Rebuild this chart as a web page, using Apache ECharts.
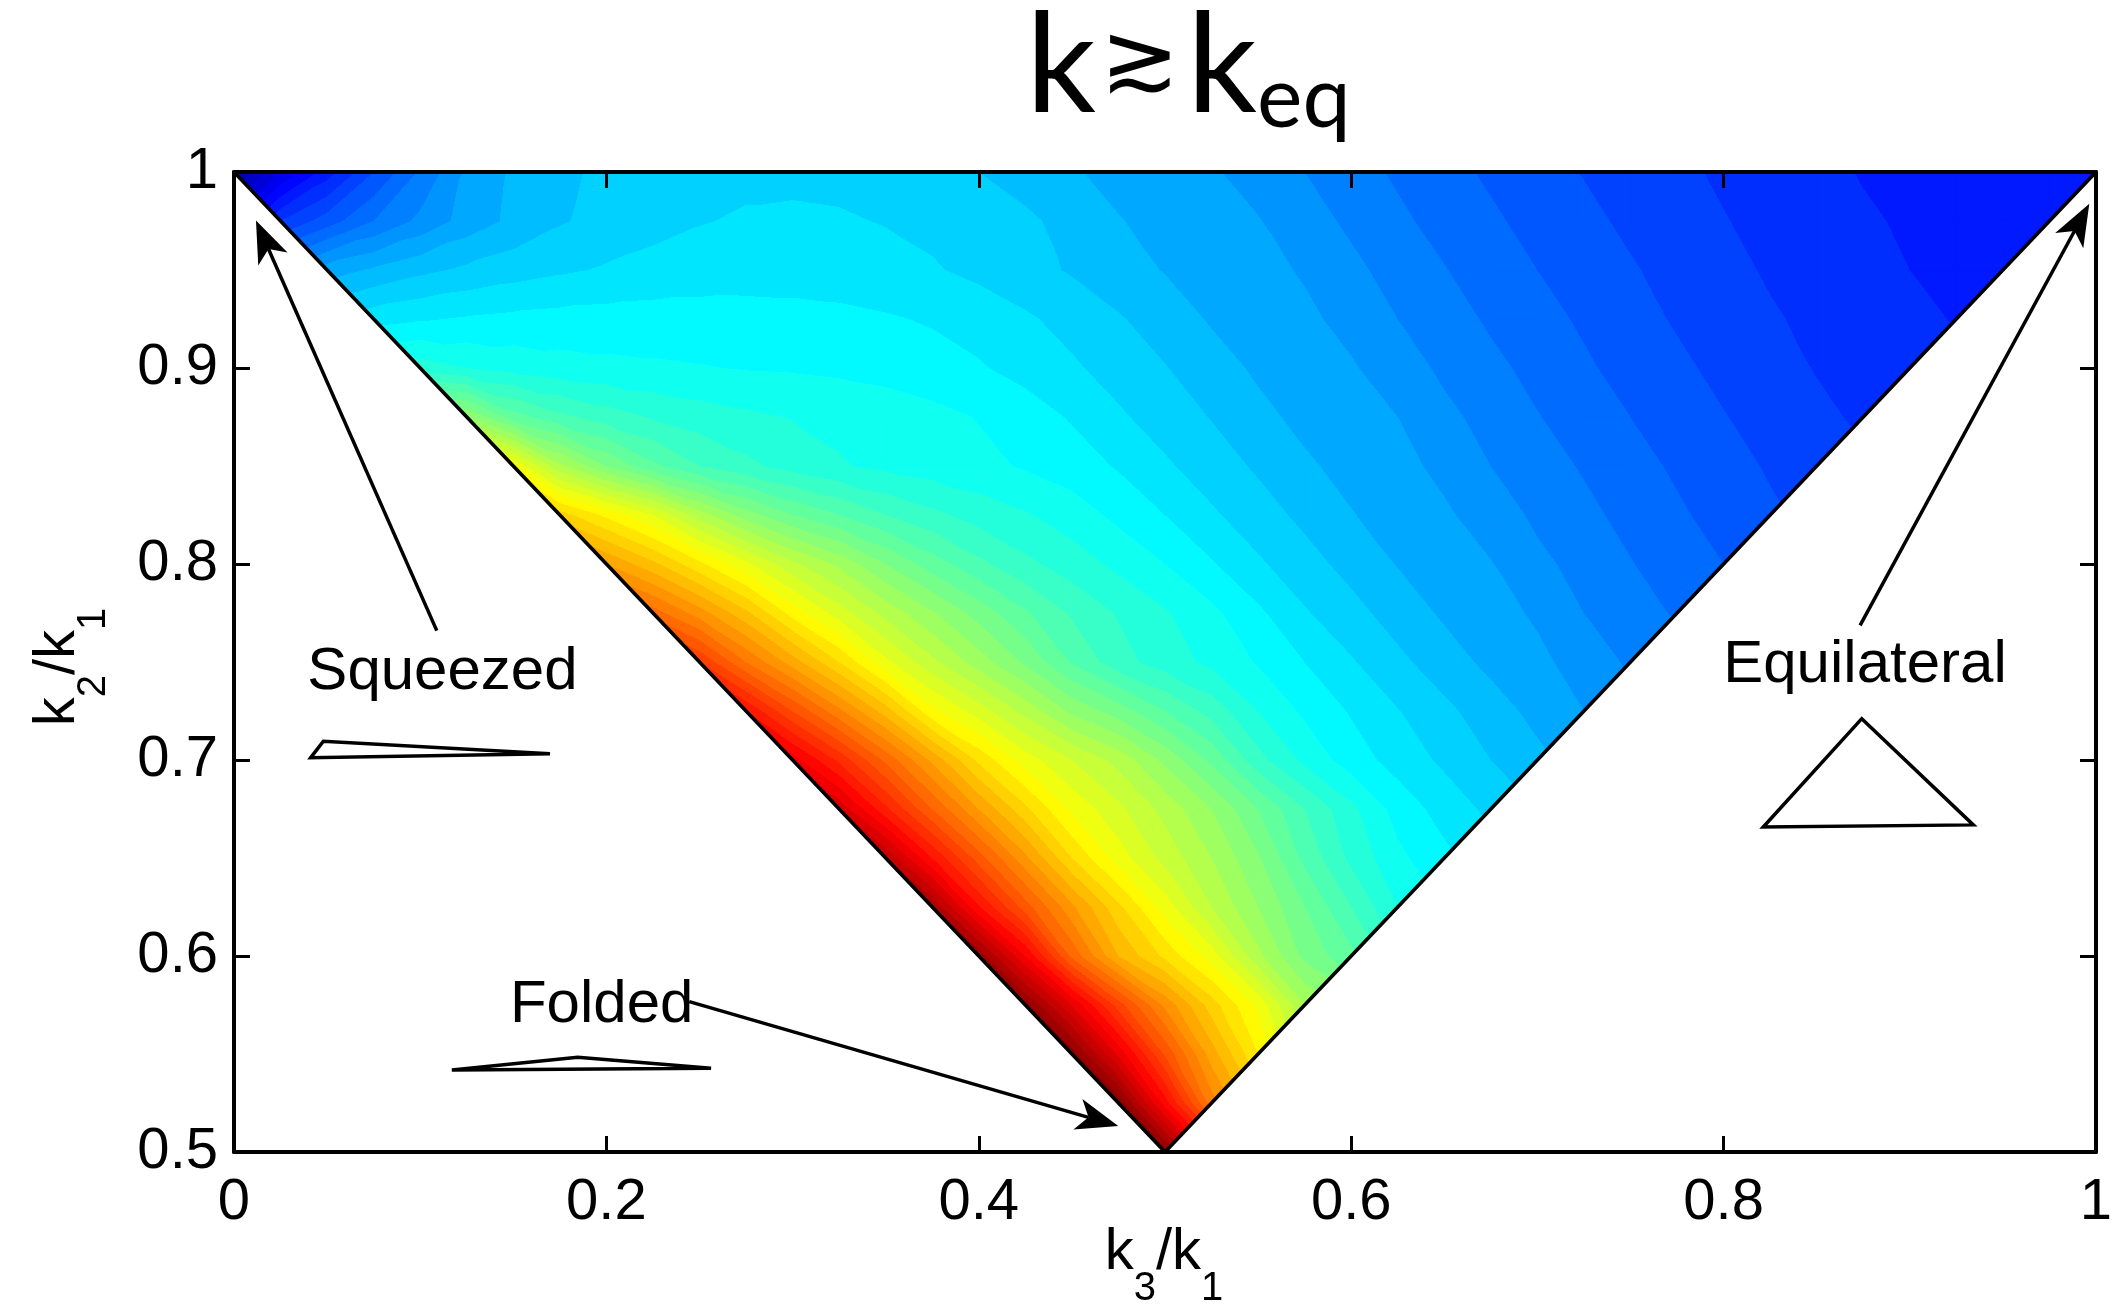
<!DOCTYPE html>
<html><head><meta charset="utf-8">
<script src="https://cdn.jsdelivr.net/npm/echarts@6/dist/echarts.min.js"></script>
<style>html,body{margin:0;padding:0;background:#fff}#c{width:2122px;height:1309px}</style>
</head><body><div id="c"></div>
<script>
// ---------------- data ----------------
const xTicks = [0, 0.2, 0.4, 0.6, 0.8, 1];
const yTicks = [0.5, 0.6, 0.7, 0.8, 0.9, 1];
// sample grid (k3/k1 columns, k2/k1 rows); each row spans x from 1-y to y
const colX = [0,0.025,0.05,0.075,0.1,0.125,0.15,0.175,0.2,0.225,0.25,0.275,0.3,0.325,0.35,0.375,0.4,0.425,0.45,0.475,0.5,
  0.525,0.55,0.575,0.6,0.625,0.65,0.675,0.7,0.725,0.75,0.775,0.8,0.825,0.85,0.875,0.9,0.925,0.95,0.975,1];
const rowY = [0.5,0.525,0.55,0.575,0.6,0.625,0.65,0.675,0.7,0.725,0.75,0.775,0.8,0.825,0.85,0.875,0.9,0.925,0.95,0.975,1];
// normalised shape amplitude (colormap position)
const row00 = [0.99];
const row01 = [0.995,0.87,0.75];
const row02 = [0.99,0.895,0.797,0.71,0.64];
const row03 = [0.985,0.9,0.81,0.735,0.67,0.615,0.54];
const row04 = [0.975,0.88,0.775,0.70,0.655,0.61,0.545,0.495,0.465];
const row05 = [0.96,0.862,0.79,0.725,0.665,0.61,0.56,0.52,0.48,0.44,0.40];
const row06 = [0.94,0.86,0.79,0.725,0.66,0.61,0.573,0.54,0.502,0.455,0.415,0.385,0.365];
const row07 = [0.915,0.845,0.78,0.72,0.665,0.615,0.585,0.553,0.52,0.48,0.44,0.405,0.372,0.352,0.335];
const row08 = [0.89,0.835,0.775,0.715,0.655,0.61,0.58,0.553,0.515,0.475,0.427,0.395,0.37,0.352,0.336,0.32,0.305];
const row09 = [0.86,0.80,0.745,0.69,0.625,0.59,0.553,0.515,0.49,0.46,0.432,0.40,0.376,0.358,0.341,0.325,0.309,0.294,0.28];
const row10 = [0.82,0.76,0.71,0.66,0.605,0.565,0.53,0.496,0.458,0.428,0.41,0.395,0.378,0.36,0.342,0.325,0.309,0.295,0.285,0.271,0.257];
const row11 = [0.77,0.73,0.685,0.632,0.59,0.553,0.522,0.492,0.463,0.437,0.418,0.402,0.385,0.364,0.342,0.327,0.311,0.297,0.288,0.277,0.26,0.248,0.238];
const row12 = [0.72,0.685,0.645,0.605,0.565,0.535,0.5,0.47,0.445,0.425,0.41,0.395,0.38,0.362,0.343,0.328,0.313,0.299,0.29,0.281,0.265,0.253,0.241,0.231,0.22];
const row13 = [0.67,0.635,0.60,0.55,0.51,0.48,0.46,0.44,0.425,0.412,0.402,0.39,0.375,0.36,0.343,0.329,0.315,0.301,0.292,0.283,0.271,0.256,0.245,0.234,0.223,0.213,0.203];
const row14 = [0.62,0.545,0.5,0.465,0.44,0.425,0.412,0.402,0.395,0.39,0.385,0.378,0.37,0.358,0.343,0.33,0.317,0.303,0.294,0.286,0.275,0.26,0.249,0.238,0.227,0.217,0.207,0.198,0.19];
const row15 = [0.52,0.47,0.445,0.43,0.418,0.41,0.404,0.399,0.395,0.391,0.386,0.379,0.37,0.358,0.343,0.331,0.319,0.305,0.295,0.288,0.28,0.265,0.253,0.241,0.23,0.22,0.21,0.201,0.192,0.184,0.177];
const row16 = [0.41,0.40,0.393,0.388,0.385,0.383,0.381,0.379,0.378,0.376,0.373,0.368,0.362,0.353,0.343,0.332,0.321,0.308,0.297,0.289,0.282,0.27,0.256,0.245,0.234,0.223,0.213,0.204,0.195,0.187,0.179,0.174,0.168];
const row17 = [0.352,0.358,0.362,0.365,0.367,0.368,0.369,0.369,0.368,0.367,0.365,0.362,0.358,0.352,0.343,0.333,0.322,0.31,0.298,0.291,0.284,0.274,0.26,0.249,0.237,0.227,0.217,0.207,0.198,0.19,0.182,0.176,0.17,0.164,0.159];
const row18 = [0.29,0.303,0.315,0.324,0.331,0.337,0.342,0.346,0.349,0.351,0.351,0.35,0.347,0.342,0.335,0.327,0.318,0.308,0.299,0.293,0.286,0.278,0.265,0.252,0.241,0.23,0.22,0.211,0.202,0.193,0.185,0.178,0.172,0.166,0.16,0.156,0.152];
const row19 = [0.18,0.21,0.24,0.265,0.288,0.305,0.318,0.327,0.334,0.339,0.342,0.343,0.342,0.339,0.335,0.33,0.324,0.313,0.301,0.294,0.287,0.281,0.269,0.256,0.244,0.233,0.223,0.214,0.205,0.196,0.189,0.181,0.174,0.168,0.162,0.158,0.154,0.15,0.146];
const row20 = [0.03,0.10,0.15,0.20,0.243,0.283,0.303,0.316,0.324,0.33,0.334,0.336,0.336,0.335,0.332,0.326,0.32,0.311,0.302,0.294,0.288,0.282,0.273,0.26,0.248,0.237,0.226,0.217,0.208,0.199,0.192,0.184,0.177,0.171,0.164,0.159,0.155,0.151,0.148,0.144,0.14];
// triangle domain outline (k3/k1, k2/k1)
const domainVertices = [[0, 1], [0.5, 0.5], [1, 1]];
// annotations (axis units)
const annoLabels = ['Squeezed', 'Folded', 'Equilateral'];
const labelPos = [[0.0394, 0.7368], [0.1482, 0.5665], [0.7998, 0.7400]];
const arrowTail = [[0.1089, 0.766], [0.2445, 0.5767], [0.8733, 0.7687]];
const arrowTip = [[0.0118, 0.9752], [0.4749, 0.5133], [0.9964, 0.9838]];
const shapeSqueezed = [[0.0412, 0.7012], [0.0480, 0.7096], [0.1697, 0.7032]];
const shapeFolded = [[0.117, 0.5418], [0.1846, 0.5483], [0.2562, 0.5427]];
const shapeEquilateral = [[0.8213, 0.6658], [0.8742, 0.7211], [0.9341, 0.6669]];

// ---------------- build ----------------
const fieldRows = [row00,row01,row02,row03,row04,row05,row06,row07,row08,row09,row10,row11,row12,row13,row14,row15,row16,row17,row18,row19,row20];
const shapes = [shapeSqueezed, shapeFolded, shapeEquilateral];
const MID = (colX.length - 1) / 2;
function val(j, k) { return fieldRows[j][k - (MID - j)]; }
function P(j, k) { return [colX[k], rowY[j], val(j, k)]; }
function tri(a, b, c) { return a.concat(b, c); }
const tris = [];
for (let j = 0; j < rowY.length - 1; j++) {
  const kMin = MID - j, kMax = MID + j;
  tris.push(tri(P(j, kMin), P(j + 1, kMin - 1), P(j + 1, kMin)));
  for (let k = kMin; k < kMax; k++) {
    const A = P(j, k), B = P(j, k + 1), C = P(j + 1, k), D = P(j + 1, k + 1);
    if (Math.abs(B[2] - C[2]) <= Math.abs(A[2] - D[2])) {
      tris.push(tri(A, B, C)); tris.push(tri(B, D, C));
    } else {
      tris.push(tri(A, B, D)); tris.push(tri(A, D, C));
    }
  }
  tris.push(tri(P(j, kMax), P(j + 1, kMax + 1), P(j + 1, kMax)));
}

function jet(v) {
  v = Math.max(0, Math.min(1, v));
  const c = t => Math.max(0, Math.min(1, t));
  const r = c(Math.min(4 * v - 1.5, -4 * v + 4.5));
  const g = c(Math.min(4 * v - 0.5, -4 * v + 3.5));
  const b = c(Math.min(4 * v + 0.5, -4 * v + 2.5));
  return 'rgb(' + Math.round(r * 255) + ',' + Math.round(g * 255) + ',' + Math.round(b * 255) + ')';
}
const LEVEL = 0.02;
function bandOf(n) { return jet((n + 0.5) * LEVEL); }
function bandFill(p, v) {
  const vmin = Math.min(v[0], v[1], v[2]), vmax = Math.max(v[0], v[1], v[2]);
  const nLo = Math.floor(vmin / LEVEL), nHi = Math.ceil(vmax / LEVEL) - 1;
  if (vmax - vmin < 1e-9 || nLo >= nHi) return bandOf(nLo);
  const x1 = p[1][0] - p[0][0], y1 = p[1][1] - p[0][1], x2 = p[2][0] - p[0][0], y2 = p[2][1] - p[0][1];
  const d1 = v[1] - v[0], d2 = v[2] - v[0];
  const det = x1 * y2 - x2 * y1;
  const gx = (d1 * y2 - d2 * y1) / det, gy = (x1 * d2 - x2 * d1) / det;
  const g2 = gx * gx + gy * gy;
  const im = v.indexOf(vmin);
  const sx = p[im][0], sy = p[im][1];
  const s = (vmax - vmin) / g2;
  const stops = [{ offset: 0, color: bandOf(nLo) }];
  for (let n = nLo + 1; n <= nHi; n++) {
    const o = Math.max(0, Math.min(1, (n * LEVEL - vmin) / (vmax - vmin)));
    stops.push({ offset: o, color: bandOf(n - 1) });
    stops.push({ offset: o, color: bandOf(n) });
  }
  stops.push({ offset: 1, color: bandOf(nHi) });
  return new echarts.graphic.LinearGradient(sx, sy, sx + gx * s, sy + gy * s, stops, true);
}
function renderTri(params, api) {
  const pts = [], vals = [];
  for (let i = 0; i < 3; i++) {
    pts.push(api.coord([api.value(3 * i), api.value(3 * i + 1)]));
    vals.push(api.value(3 * i + 2));
  }
  const f = bandFill(pts, vals);
  return { type: 'polygon', silent: true, shape: { points: pts }, style: { fill: f, stroke: f, lineWidth: 1.2 } };
}

// text helpers
const HEL = 'Liberation Sans';
const MIDF = { 'Liberation Sans': 0.3465, 'Lato': 0.387, 'DejaVu Sans': 0.346 };
const mctx = document.createElement('canvas').getContext('2d');
function tw(t, fs, fam) { mctx.font = fs + 'px "' + fam + '"'; return mctx.measureText(t).width; }
function txt(t, x, baseline, fs, fam) {
  return { type: 'text', x: x, y: baseline - MIDF[fam] * fs, silent: true,
    style: { text: t, fill: '#000', fontSize: fs, fontFamily: fam, font: fs + 'px "' + fam + '"',
      align: 'left', textAlign: 'left', verticalAlign: 'middle', textVerticalAlign: 'middle' } };
}
// k_a / k_b label with subscripts, centred at 0 along its baseline
function subLabel(a, b, fsMain, fsSub, drop) {
  const parts = [['k', fsMain, 0], [a, fsSub, drop], ['/k', fsMain, 0], [b, fsSub, drop]];
  const W = parts.reduce((s, p) => s + tw(p[0], p[1], HEL), 0);
  let x = -W / 2; const out = [];
  parts.forEach(p => { out.push(txt(p[0], x, p[2], p[1], HEL)); x += tw(p[0], p[1], HEL); });
  return out;
}

const FS_ANNO = 60;
function renderAnno(params, api) {
  const i = params.dataIndex;
  const ch = [];
  const lp = api.coord(labelPos[i]);
  ch.push(txt(annoLabels[i], lp[0], lp[1] + 5, FS_ANNO, HEL));
  const t0 = api.coord(arrowTail[i]), t1 = api.coord(arrowTip[i]);
  const dx = t1[0] - t0[0], dy = t1[1] - t0[1], L = Math.hypot(dx, dy);
  const ux = dx / L, uy = dy / L, nx = -uy, ny = ux;
  const Lh = 42, W = 16, notch = 11;
  const bx = t1[0] - ux * Lh, by = t1[1] - uy * Lh;
  const mx = t1[0] - ux * (Lh - notch), my = t1[1] - uy * (Lh - notch);
  ch.push({ type: 'line', shape: { x1: t0[0], y1: t0[1], x2: mx, y2: my }, style: { stroke: '#000', lineWidth: 3.5 } });
  ch.push({ type: 'polygon', shape: { points: [t1, [bx + nx * W, by + ny * W], [mx, my], [bx - nx * W, by - ny * W]] }, style: { fill: '#000' } });
  const sp = shapes[i].map(q => api.coord(q));
  ch.push({ type: 'polygon', shape: { points: sp }, style: { fill: 'none', stroke: '#000', lineWidth: 3.5, lineJoin: 'miter' } });
  return { type: 'group', children: ch };
}

const step = a => Math.round((a[1] - a[0]) * 1e6) / 1e6;
const axLine = { show: true, onZero: false, lineStyle: { color: '#000', width: 4 } };
const axTick = { show: true, inside: true, length: 16, lineStyle: { color: '#000', width: 3 } };
const TICK_FS = 58;

const chart = echarts.init(document.getElementById('c'), null, { renderer: 'canvas', width: 2122, height: 1309 });
chart.setOption({
  animation: false,
  backgroundColor: '#fff',
  graphic: [
    // title  k ≳ k_eq
    { type: 'group', silent: true, children: [
      txt('k', 1026, 120, 138, 'Lato'),
      txt('\u2273', 1100, 98, 95, 'DejaVu Sans'),
      txt('k', 1187, 120, 138, 'Lato'),
      txt('eq', 1257, 133, 86, 'Lato')
    ] },
    // x axis title k3/k1
    { type: 'group', x: 1164, y: 1273, silent: true, children: subLabel('3', '1', 58, 40, 30) },
    // y axis title k2/k1 (rotated)
    { type: 'group', x: 78, y: 667, rotation: Math.PI / 2, silent: true, children: subLabel('2', '1', 58, 40, 30) }
  ],
  grid: { left: 234, top: 172, width: 1862, height: 980, containLabel: false, outerBoundsMode: 'none' },
  xAxis: [
    { type: 'value', min: xTicks[0], max: xTicks[xTicks.length - 1], interval: step(xTicks), position: 'bottom', z: 10,
      axisLine: axLine, axisTick: axTick, splitLine: { show: false },
      axisLabel: { show: true, margin: 22, color: '#000', fontSize: TICK_FS, fontFamily: HEL, showMinLabel: true, showMaxLabel: true } },
    { type: 'value', min: xTicks[0], max: xTicks[xTicks.length - 1], interval: step(xTicks), position: 'top', z: 10,
      axisLine: axLine, axisTick: axTick, splitLine: { show: false }, axisLabel: { show: false } }
  ],
  yAxis: [
    { type: 'value', min: yTicks[0], max: yTicks[yTicks.length - 1], interval: step(yTicks), position: 'left', z: 10,
      axisLine: axLine, axisTick: axTick, splitLine: { show: false },
      axisLabel: { show: true, margin: 16, color: '#000', fontSize: TICK_FS, fontFamily: HEL, showMinLabel: true, showMaxLabel: true } },
    { type: 'value', min: yTicks[0], max: yTicks[yTicks.length - 1], interval: step(yTicks), position: 'right', z: 10,
      axisLine: axLine, axisTick: axTick, splitLine: { show: false }, axisLabel: { show: false } }
  ],
  series: [
    { type: 'custom', name: 'shape', xAxisIndex: 0, yAxisIndex: 0, z: 2, silent: true, progressive: 0,
      encode: { x: 0, y: 1 }, renderItem: renderTri, data: tris },
    { type: 'line', name: 'domain', xAxisIndex: 0, yAxisIndex: 0, z: 3, silent: true, symbol: 'none',
      lineStyle: { color: '#000', width: 3.6 }, data: domainVertices },
    { type: 'custom', name: 'annotations', xAxisIndex: 0, yAxisIndex: 0, z: 4, silent: true,
      encode: { x: 0, y: 1 }, renderItem: renderAnno, data: labelPos.map(p => [p[0], p[1]]) }
  ]
});
</script>
</body></html>
